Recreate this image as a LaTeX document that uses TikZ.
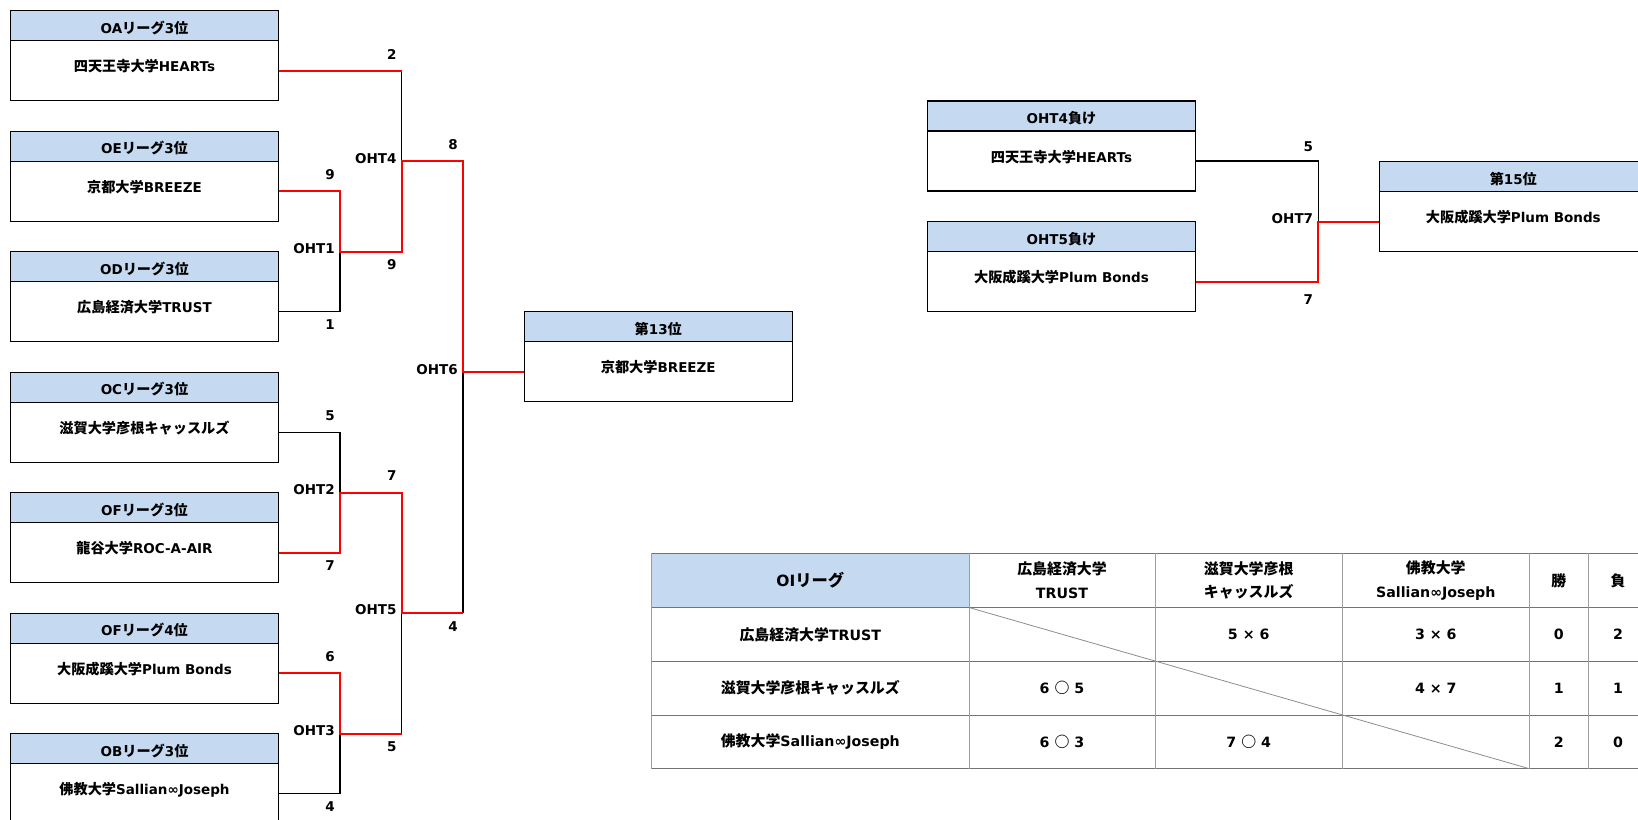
\documentclass[tikz,border=0pt]{standalone}
\usepackage{fontspec}
\setmainfont{DejaVu Sans}
\newfontfamily\jpfont{Noto Sans CJK JP}[Scale=1.05]
\usetikzlibrary{positioning,calc}
\definecolor{hdrblue}{RGB}{197,217,241}
% CJK characters are set in the Japanese font, the rest in DejaVu Sans
\XeTeXinterchartokenstate=1
\newXeTeXintercharclass\jpclass
\count255="3000
\loop
\XeTeXcharclass\count255=\jpclass
\ifnum\count255<"9FFF \advance\count255 by 1 \repeat
\XeTeXcharclass"25CB=\jpclass
\XeTeXinterchartoks 0 \jpclass = {\jpfont}
\XeTeXinterchartoks 4095 \jpclass = {\jpfont}
\XeTeXinterchartoks 255 \jpclass = {\jpfont}
\XeTeXinterchartoks \jpclass 0 = {\rmfamily}
\XeTeXinterchartoks \jpclass 4095 = {\rmfamily}
\XeTeXinterchartoks \jpclass 255 = {\rmfamily}
\tikzset{
  hdr/.style={draw,line width=1.3pt,fill=hdrblue,minimum width=268pt,minimum height=30pt,inner sep=0pt,outer sep=0pt,text height=15pt,text depth=0pt},
  team/.style={draw,line width=1.3pt,minimum width=268pt,minimum height=60pt,inner sep=0pt,outer sep=0pt,text height=10pt,text depth=8pt},
  win/.style={draw=red,line width=2pt},
  lose/.style={draw=black,line width=1.3pt},
  score/.style={anchor=east,inner sep=0pt},
  tblh/.style={draw=black!55,line width=1pt},
  tblv/.style={draw=black!38,line width=1pt},
  cell/.style={inner sep=0pt,align=center,font=\bfseries\fontsize{14.2}{23.7}\selectfont}
}
\begin{document}
\begin{tikzpicture}[x=1pt,y=-1pt,font=\bfseries\fontsize{13.5}{16}\selectfont]
\useasboundingbox (0,0) rectangle (1638,819);
\clip (0,0) rectangle (1638,819);
\foreach \i/\hd/\tm in {1/OAリーグ3位/四天王寺大学HEARTs,2/OEリーグ3位/京都大学BREEZE,3/ODリーグ3位/広島経済大学TRUST,4/OCリーグ3位/滋賀大学彦根キャッスルズ,5/OFリーグ3位/龍谷大学ROC-A-AIR,6/OFリーグ4位/大阪成蹊大学Plum Bonds,7/OBリーグ3位/佛教大学Sallian∞Joseph}{
  \node[hdr] (h\i) at (144.5,{25.7+120.5*(\i-1)}) {\hd};
  \node[team,below=0pt of h\i] (t\i) {\tm};
}
\node[hdr] (h13) at (658.3,326.7) {第13位};
\node[team,below=0pt of h13] (r13) {京都大学BREEZE};
\node[hdr] (hl4) at (1061.5,116) {OHT4負け};
\node[team,below=0pt of hl4] (tl4) {四天王寺大学HEARTs};
\node[hdr] (hl5) at (1061.5,236.5) {OHT5負け};
\node[team,below=0pt of hl5] (tl5) {大阪成蹊大学Plum Bonds};
\node[hdr] (h15) at (1513.3,176.5) {第15位};
\node[team,below=0pt of h15] (r15) {大阪成蹊大学Plum Bonds};

\coordinate (oht1) at (340,251.7);
\coordinate (oht2) at (340,492.5);
\coordinate (oht3) at (340,733.5);
\coordinate (oht4) at (401.7,161.2);
\coordinate (oht5) at (401.7,613);
\coordinate (oht6) at (463,371.7);
\coordinate (oht7) at (1318.3,221.5);

\draw[lose] (oht4 |- t1.east) -- (oht4);
\draw[lose] (t3.east) -| (oht1);
\draw[lose] (t4.east) -| (oht2);
\draw[lose] (t7.east) -| (oht3);
\draw[lose] (oht3 -| oht5) -- (oht5);
\draw[lose] (oht5 -| oht6) -- (oht6);
\draw[lose] (tl4.east) -| (oht7);
\draw[win] (t1.east) -- (oht4 |- t1.east);
\draw[win] (t2.east) -| (oht1) -- (oht1 -| oht4) -- (oht4) -- (oht4 -| oht6) -- (oht6) -- (r13.west);
\draw[win] (t5.east) -| (oht2) -- (oht2 -| oht5) -- (oht5) -- (oht5 -| oht6);
\draw[win] (t6.east) -| (oht3) -- (oht3 -| oht5);
\draw[win] (tl5.east) -| (oht7) -- (r15.west);

\node[score] at ($(oht4 |- t1.east)+(-5,-16.7)$) {2};
\node[score] at ($(oht1 |- t2.east)+(-5,-16.7)$) {9};
\node[score] at ($(oht1 |- t3.east)+(-5,13.3)$) {1};
\node[score] at ($(oht1)+(-5,-3)$) {OHT1};
\node[score] at ($(oht4 |- oht1)+(-5,13.3)$) {9};
\node[score] at ($(oht4)+(-5,-2.5)$) {OHT4};
\node[score] at ($(oht6 |- oht4)+(-5,-16.7)$) {8};
\node[score] at ($(oht6)+(-5,-2.5)$) {OHT6};
\node[score] at ($(oht2 |- t4.east)+(-5,-16.7)$) {5};
\node[score] at ($(oht2)+(-5,-3)$) {OHT2};
\node[score] at ($(oht2 |- t5.east)+(-5,13.3)$) {7};
\node[score] at ($(oht5 |- oht2)+(-5,-16.7)$) {7};
\node[score] at ($(oht5)+(-5,-3)$) {OHT5};
\node[score] at ($(oht6 |- oht5)+(-5,13.3)$) {4};
\node[score] at ($(oht3 |- t6.east)+(-5,-16.7)$) {6};
\node[score] at ($(oht3)+(-5,-3)$) {OHT3};
\node[score] at ($(oht5 |- oht3)+(-5,13.3)$) {5};
\node[score] at ($(oht3 |- t7.east)+(-5,13.3)$) {4};
\node[score] at ($(oht7 |- tl4.east)+(-5,-14)$) {5};
\node[score] at ($(oht7)+(-5,-2.5)$) {OHT7};
\node[score] at ($(oht7 |- tl5.east)+(-5,18.3)$) {7};

\fill[hdrblue] (651.7,553.3) rectangle (969,607.5);
\foreach \y in {553.3,607.5,661.3,715,768.7} \draw[tblh] (651.7,\y) -- (1650,\y);
\foreach \x in {651.7,969,1155,1342.3,1529.3,1588.3,1647.7} \draw[tblv] (\x,553.3) -- (\x,768.7);
\draw[black!45,line width=0.8pt] (969,607.5) -- (1529.3,768.7);
\node[cell,font=\bfseries\fontsize{15.5}{18}\selectfont] (oi) at (810.3,580.4) {OIリーグ};
\node[cell] (c1) at (1062,580.4) {広島経済大学\\TRUST};
\node[cell] (c2) at (1248.7,580.4) {滋賀大学彦根\\キャッスルズ};
\node[cell] (c3) at (1435.8,580.4) {佛教大学\\Sallian∞Joseph};
\node[cell] (cw) at (1558.8,580.4) {勝};
\node[cell] (cl) at (1618,580.4) {負};
\foreach \y/\nm/\wn/\ls [count=\r] in {634.4/広島経済大学TRUST/0/2,688.2/滋賀大学彦根キャッスルズ/1/1,741.9/佛教大学Sallian∞Joseph/2/0}{
  \node[cell] (n\r) at (810.3,\y) {\nm};
  \node[cell] (w\r) at (1558.8,\y) {\wn};
  \node[cell] (l\r) at (1618,\y) {\ls};
}
\node[cell] (s12) at (1248.7,634.4) {5 × 6};
\node[cell] (s13) at (1435.8,634.4) {3 × 6};
\node[cell] (s21) at (1062,688.2) {6 ○ 5};
\node[cell] (s23) at (1435.8,688.2) {4 × 7};
\node[cell] (s31) at (1062,741.9) {6 ○ 3};
\node[cell] (s32) at (1248.7,741.9) {7 ○ 4};
\end{tikzpicture}
\end{document}
